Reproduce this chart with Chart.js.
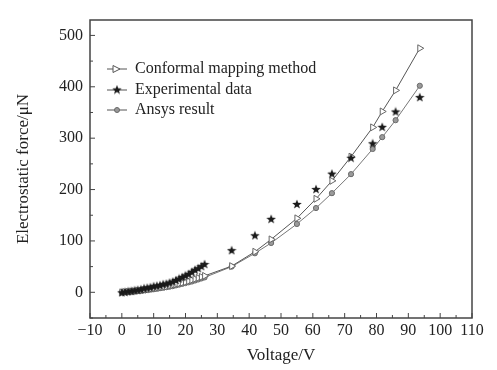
<!DOCTYPE html>
<html>
<head>
<meta charset="utf-8">
<script src="https://cdn.jsdelivr.net/npm/chart.js@4"></script>
<style>
    html, body { margin: 0; padding: 0; background: #fff; }
    canvas { display: block; }
</style>
</head>
<body>
<canvas id="forceChart" width="497" height="370"></canvas>
<script>
/* ─── Data ─────────────────────────────────────────────────────── */
const voltLow  = [0, 1, 2, 3, 4, 5, 6, 7, 8, 9, 10, 11, 12, 13, 14, 15, 16, 17, 18, 19, 20, 21, 22, 23, 24, 25, 26];
const voltHigh = [34.5, 41.8, 46.9, 55, 61, 66, 72, 78.8, 81.8, 86, 93.6];

const expLow  = [0, 1, 2, 3, 4, 5, 6, 8, 9, 10, 12, 13, 14, 16, 17, 19, 21, 24, 27, 30, 33, 36, 40, 44, 47, 51, 55];
const expHigh = [82, 111, 143, 172, 201, 231, 262, 290, 322, 352, 380];

const confLow  = [0, 0.5, 1, 1.5, 2, 3, 3.5, 4.5, 5, 6, 7, 8, 9, 10, 11, 12.5, 14, 15.5, 17, 18.5, 20, 22, 24, 26, 28, 30, 32];
const confHigh = [51, 79, 103, 144, 182, 217, 264, 321, 352, 393, 475];

const ansysLow  = [0, 0.5, 1, 1.5, 2, 2.5, 3, 4, 4.5, 5.5, 6, 7, 8, 9, 10, 11, 12, 13.5, 15, 16.5, 18, 19.5, 21, 23, 25, 27, 29];
const ansysHigh = [50, 76, 96, 133, 164, 193, 230, 279, 302, 335, 402];

const xTickLabels = [-10, 0, 10, 20, 30, 40, 50, 60, 70, 80, 90, 100, 110];
const yTickLabels = [0, 100, 200, 300, 400, 500];

const seriesNames = ['Conformal mapping method', 'Experimental data', 'Ansys result'];

/* ─── Helpers ──────────────────────────────────────────────────── */
function toPoints(xs, ys) {
    return xs.map((x, i) => ({ x, y: ys[i] }));
}

// filled five-point star used as marker
function makeStar(size, color) {
    const c = document.createElement('canvas');
    c.width = size; c.height = size;
    const g = c.getContext('2d');
    const cx = size / 2, cy = size / 2 + 0.5, R = size / 2, r = R * 0.42;
    g.beginPath();
    for (let i = 0; i < 10; i++) {
        const rad = i % 2 === 0 ? R : r;
        const a = -Math.PI / 2 + i * Math.PI / 5;
        g.lineTo(cx + rad * Math.cos(a), cy + rad * Math.sin(a));
    }
    g.closePath();
    g.fillStyle = color;
    g.fill();
    return c;
}
const starImg = makeStar(10, '#1a1a1a');

const FONT = "'Liberation Serif', 'Times New Roman', serif";
const LINE_GREY = '#555';

/* ─── Frame, inward ticks and legend ───────────────────────────── */
const framePlugin = {
    id: 'frame',
    afterDraw(chart) {
        const { ctx, chartArea: a, scales } = chart;
        ctx.save();
        ctx.strokeStyle = '#444';
        ctx.lineWidth = 1.5;
        ctx.strokeRect(a.left, a.top, a.right - a.left, a.bottom - a.top);

        ctx.lineWidth = 1;
        ctx.beginPath();
        for (let v = -10; v <= 110; v += 5) {
            const px = scales.x.getPixelForValue(v);
            const len = v % 10 === 0 ? 5 : 3;
            ctx.moveTo(px, a.bottom);
            ctx.lineTo(px, a.bottom - len);
        }
        for (let v = -50; v <= 530; v += 50) {
            const py = scales.y.getPixelForValue(v);
            const len = v % 100 === 0 ? 5 : 3;
            ctx.moveTo(a.left, py);
            ctx.lineTo(a.left + len, py);
        }
        ctx.stroke();

        // legend: short line with marker, then label
        const rows = [69, 90, 110];
        ctx.font = '16px ' + FONT;
        ctx.textBaseline = 'middle';
        rows.forEach((y, i) => {
            ctx.strokeStyle = LINE_GREY;
            ctx.lineWidth = 1;
            ctx.beginPath();
            ctx.moveTo(107, y);
            ctx.lineTo(127, y);
            ctx.stroke();
            if (i === 0) {
                ctx.beginPath();
                ctx.moveTo(113, y - 3.5);
                ctx.lineTo(120, y);
                ctx.lineTo(113, y + 3.5);
                ctx.closePath();
                ctx.fillStyle = '#fff';
                ctx.fill();
                ctx.stroke();
            } else if (i === 1) {
                ctx.drawImage(starImg, 117 - 5, y - 5.5);
            } else {
                ctx.beginPath();
                ctx.arc(117, y, 2.5, 0, Math.PI * 2);
                ctx.fillStyle = '#999';
                ctx.fill();
                ctx.strokeStyle = '#666';
                ctx.stroke();
            }
            ctx.fillStyle = '#222';
            ctx.fillText(seriesNames[i], 135, y);
        });
        ctx.restore();
    }
};

/* ─── Chart ────────────────────────────────────────────────────── */
new Chart(document.getElementById('forceChart'), {
    type: 'scatter',
    data: {
        datasets: [
            {
                label: seriesNames[1],
                data: toPoints(voltLow.concat(voltHigh), expLow.concat(expHigh)),
                showLine: false,
                pointStyle: starImg,
            },
            {
                label: seriesNames[0],
                data: toPoints(voltLow.concat(voltHigh), confLow.concat(confHigh)),
                showLine: true,
                borderColor: LINE_GREY,
                borderWidth: 1,
                pointStyle: 'triangle',
                rotation: 90,
                pointRadius: 4,
                pointBackgroundColor: '#fff',
                pointBorderColor: '#666',
                pointBorderWidth: 1,
            },
            {
                label: seriesNames[2],
                data: toPoints(voltLow.concat(voltHigh), ansysLow.concat(ansysHigh)),
                showLine: true,
                borderColor: '#777',
                borderWidth: 1,
                pointStyle: 'circle',
                pointRadius: 2.6,
                pointBackgroundColor: '#9a9a9a',
                pointBorderColor: '#6a6a6a',
                pointBorderWidth: 1,
            },
        ],
    },
    options: {
        responsive: false,
        animation: false,
        layout: { padding: { top: 20, right: 25, left: 0, bottom: 0 } },
        plugins: { legend: { display: false }, tooltip: { enabled: false } },
        scales: {
            x: {
                type: 'linear',
                min: -10,
                max: 110,
                grid: { display: false, drawTicks: false },
                border: { display: false },
                afterBuildTicks: s => { s.ticks = xTickLabels.map(v => ({ value: v })); },
                afterFit: s => { s.height = 52; },
                ticks: {
                    padding: 3,
                    maxRotation: 0,
                    autoSkip: false,
                    color: '#222',
                    font: { family: FONT, size: 16 },
                    callback: v => (v < 0 ? '\u2212' + Math.abs(v) : String(v)),
                },
                title: {
                    display: true,
                    text: 'Voltage/V',
                    color: '#222',
                    font: { family: FONT, size: 17 },
                    padding: { top: 0, bottom: 4 },
                },
            },
            y: {
                type: 'linear',
                min: -50,
                max: 530,
                grid: { display: false, drawTicks: false },
                border: { display: false },
                afterBuildTicks: s => { s.ticks = yTickLabels.map(v => ({ value: v })); },
                afterFit: s => { s.width = 90; },
                ticks: {
                    padding: 7,
                    autoSkip: false,
                    color: '#222',
                    font: { family: FONT, size: 16 },
                },
                title: {
                    display: true,
                    text: 'Electrostatic force/\u03bcN',
                    color: '#222',
                    font: { family: FONT, size: 17 },
                    padding: { top: 13, bottom: 0 },
                },
            },
        },
    },
    plugins: [framePlugin],
});
</script>
</body>
</html>
